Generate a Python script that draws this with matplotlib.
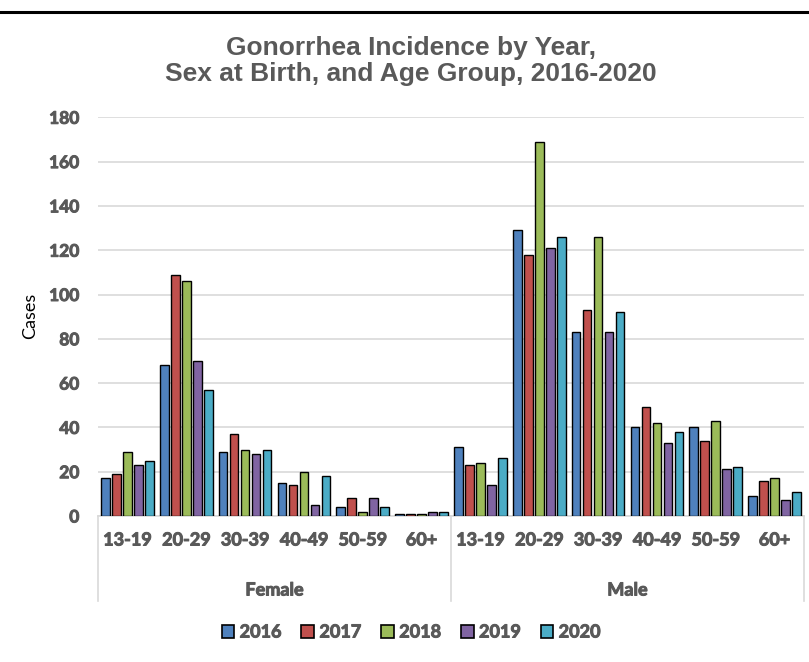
import matplotlib
matplotlib.use("Agg")
import matplotlib.pyplot as plt
from matplotlib.patches import Patch
from matplotlib.lines import Line2D
from matplotlib import font_manager
from matplotlib.font_manager import FontProperties
import matplotlib.patheffects as pe
import numpy as np

sexes = ["Female", "Male"]
age_groups = ["13-19", "20-29", "30-39", "40-49", "50-59", "60+"]
years = ["2016", "2017", "2018", "2019", "2020"]
colors = ["#4F81BD", "#C0504D", "#9BBB59", "#8064A2", "#4BACC6"]

cases_2016 = [17, 68, 29, 15, 4, 1, 31, 129, 83, 40, 40, 9]
cases_2017 = [19, 109, 37, 14, 8, 1, 23, 118, 93, 49, 34, 16]
cases_2018 = [29, 106, 30, 20, 2, 1, 24, 169, 126, 42, 43, 17]
cases_2019 = [23, 70, 28, 5, 8, 2, 14, 121, 83, 33, 21, 7]
cases_2020 = [25, 57, 30, 18, 4, 2, 26, 126, 92, 38, 22, 11]
series = [cases_2016, cases_2017, cases_2018, cases_2019, cases_2020]

yticks = list(range(0, 181, 20))


def find_bold_file():
    fonts = font_manager.fontManager.ttflist
    for key in ["lato", "opensans", "open sans", "notosans-", "liberationsans-"]:
        for f in fonts:
            p = f.fname.lower().replace("_", "")
            base = p.rsplit("/", 1)[-1]
            if key in base and "bold" in base and "italic" not in base \
                    and "semi" not in base and "extra" not in base and "narrow" not in base \
                    and "condensed" not in base:
                return f.fname
    return None


bold_file = find_bold_file()


def bprop(size):
    if bold_file:
        return FontProperties(fname=bold_file, size=size)
    return FontProperties(family="DejaVu Sans", weight="bold", size=size)


gray = "#595959"
thick = [pe.withStroke(linewidth=0.7, foreground=gray)]

W, H = 809, 662
fig = plt.figure(figsize=(W / 100, H / 100), dpi=100)
ax = fig.add_axes([98 / W, 1 - 516 / H, (804 - 98) / W, (516 - 117.3) / H])

n = len(age_groups) * len(sexes)
x = np.arange(n) + 0.5
pitch = 0.187
width = 0.15
for j, (vals, c) in enumerate(zip(series, colors)):
    ax.bar(x + (j - 2) * pitch, vals, width=width, color=c,
           edgecolor="black", linewidth=1.0, zorder=3)

ax.set_xlim(0, n)
ax.set_ylim(0, 180)
ax.set_yticks(yticks)
ax.set_yticklabels([str(t) for t in yticks])
for t in ax.get_yticklabels():
    t.set_fontproperties(bprop(12.5))
    t.set_color(gray)
    t.set_path_effects(thick)
ax.tick_params(axis="y", length=0, pad=13.5)
ax.set_xticks([])
ax.grid(axis="y", color="#D9D9D9", linewidth=1.2, zorder=0)
for s in ["top", "right", "left"]:
    ax.spines[s].set_visible(False)
ax.spines["bottom"].set_color("#D9D9D9")
ax.spines["bottom"].set_linewidth(1.2)

fig.text(30 / W, 1 - 316 / H, "Cases", rotation=90, ha="center", va="center",
         fontfamily="Lato", fontsize=13, color="black")

trans = ax.get_xaxis_transform()
labels = age_groups * len(sexes)
row1 = (516 - 540) / (516 - 117.3)
row2 = (516 - 590) / (516 - 117.3)
for xi, lab in zip(x, labels):
    ax.text(xi, row1, lab, transform=trans, ha="center", va="center",
            fontproperties=bprop(13), color=gray, path_effects=thick)
for k, sex in enumerate(sexes):
    ax.text(k * 6 + 3, row2, sex, transform=trans, ha="center", va="center",
            fontproperties=bprop(13), color=gray, path_effects=thick)
for xb in [0, 6, 12]:
    ax.add_line(Line2D([xb, xb], [0, (516 - 601) / (516 - 117.3)], transform=trans,
                       color="#D9D9D9", linewidth=1.2, clip_on=False))

fig.text(411 / W, 1 - 61 / H, "Gonorrhea Incidence by Year,\nSex at Birth, and Age Group, 2016-2020",
         ha="center", va="center", fontfamily="Liberation Sans", fontweight="bold",
         fontsize=19, color=gray, linespacing=1.12)
fig.add_artist(Line2D([0, 1], [1 - 11.7 / H, 1 - 11.7 / H], color="black",
                      linewidth=2.2, transform=fig.transFigure))

handles = [Patch(facecolor=c, edgecolor="black", linewidth=1.2) for c in colors]
leg = fig.legend(handles, years, loc="center", bbox_to_anchor=(411 / W, 1 - 632 / H),
                 ncol=5, frameon=False, handlelength=0.7, handleheight=0.7,
                 handletextpad=0.3, columnspacing=1.1, borderaxespad=0,
                 prop=bprop(13))
for t in leg.get_texts():
    t.set_color(gray)
    t.set_path_effects(thick)

fig.savefig("out.png", dpi=100, facecolor="white")
